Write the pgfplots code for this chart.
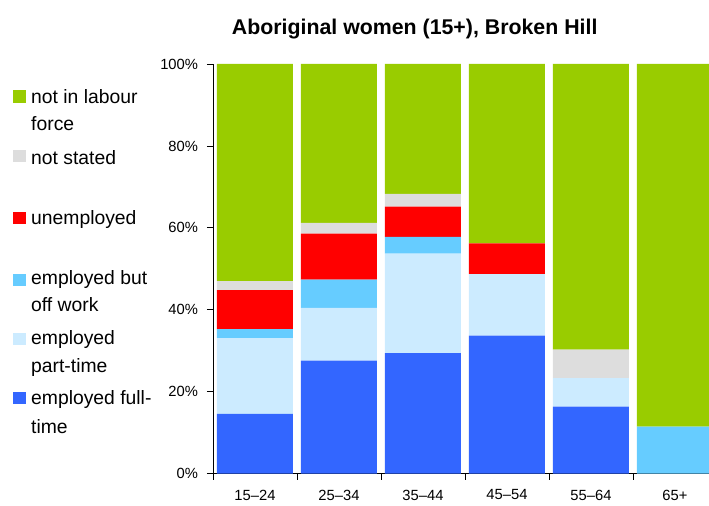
\documentclass[border=0pt]{standalone}
\usepackage{fontspec}
\setmainfont{Liberation Sans}
\usepackage{pgfplots}
\pgfplotsset{compat=1.18}
\definecolor{cNILF}{HTML}{99CC00}
\definecolor{cNS}{HTML}{DDDDDD}
\definecolor{cUN}{HTML}{FF0000}
\definecolor{cOW}{HTML}{66CCFF}
\definecolor{cPT}{HTML}{CCEBFF}
\definecolor{cFT}{HTML}{3366FF}
\begin{document}
\begin{tikzpicture}
\useasboundingbox (-213bp,-32.3bp) rectangle (496bp,473.7bp);
\begin{axis}[
  at={(0bp,0bp)}, anchor=south west,
  scale only axis, width=496bp, height=409.7bp,
  xmin=-0.5, xmax=5.405, ymin=0, ymax=100,
  axis x line*=bottom, axis y line*=left,
  axis line style={black, line width=0.8bp},
  ybar stacked, bar width=76bp,
  xtick={-0.5,0.5,1.5,2.5,3.5,4.5},
  xticklabels={15\textendash 24,25\textendash 34,35\textendash 44,45\textendash 54,55\textendash 64,65+},
  xticklabel style={xshift=42bp, yshift=-6.5bp},
  ytick={0,20,40,60,80,100},
  yticklabels={0\%,20\%,40\%,60\%,80\%,100\%},
  yticklabel style={xshift=-5.5bp},
  tick align=outside, major tick length=6bp,
  tick style={black, line width=0.8bp},
  tick label style={font=\fontsize{14.8}{16}\selectfont},
  every axis plot/.append style={draw=none},
]
\addplot+[fill=cFT] coordinates {(0,14.6) (1,27.6) (2,29.4) (3,33.7) (4,16.4) (5,0)};
\addplot+[fill=cPT] coordinates {(0,18.5) (1,12.9) (2,24.3) (3,15.0) (4,6.9) (5,0)};
\addplot+[fill=cOW] coordinates {(0,2.2) (1,6.9) (2,4.1) (3,0) (4,0) (5,11.5)};
\addplot+[fill=cUN] coordinates {(0,9.5) (1,11.2) (2,7.4) (3,7.5) (4,0) (5,0)};
\addplot+[fill=cNS] coordinates {(0,2.2) (1,2.6) (2,3.1) (3,0) (4,7.0) (5,0)};
\addplot+[fill=cNILF] coordinates {(0,53.0) (1,38.8) (2,31.7) (3,43.8) (4,69.7) (5,88.5)};
\end{axis}
% title
\node[anchor=base, inner sep=0, font=\fontsize{21.4}{24}\selectfont\bfseries] at (201.7bp,438.7bp) {Aboriginal women (15+), Broken Hill};
% legend
\begin{scope}[every node/.style={anchor=base west, inner sep=0, font=\fontsize{19.4}{23}\selectfont}]
\fill[cNILF] (-199.7bp,370.65bp) rectangle ++(12.7bp,12.7bp);
\node at (-182bp,370.4bp) {not in labour};
\node at (-182bp,342.7bp) {force};
\fill[cNS] (-199.7bp,311.35bp) rectangle ++(12.7bp,12.7bp);
\node at (-182bp,309.4bp) {not stated};
\fill[cUN] (-199.7bp,249.35bp) rectangle ++(12.7bp,12.7bp);
\node at (-182bp,248.7bp) {unemployed};
\fill[cOW] (-199.7bp,187.35bp) rectangle ++(12.7bp,12.7bp);
\node at (-182bp,188.7bp) {employed but};
\node at (-182bp,161.7bp) {off work};
\fill[cPT] (-199.7bp,128.35bp) rectangle ++(12.7bp,12.7bp);
\node at (-182bp,128.7bp) {employed};
\node at (-182bp,100.7bp) {part-time};
\fill[cFT] (-199.7bp,69.35bp) rectangle ++(12.7bp,12.7bp);
\node at (-182bp,68.7bp) {employed full-};
\node at (-182bp,40.7bp) {time};
\end{scope}
\end{tikzpicture}
\end{document}
